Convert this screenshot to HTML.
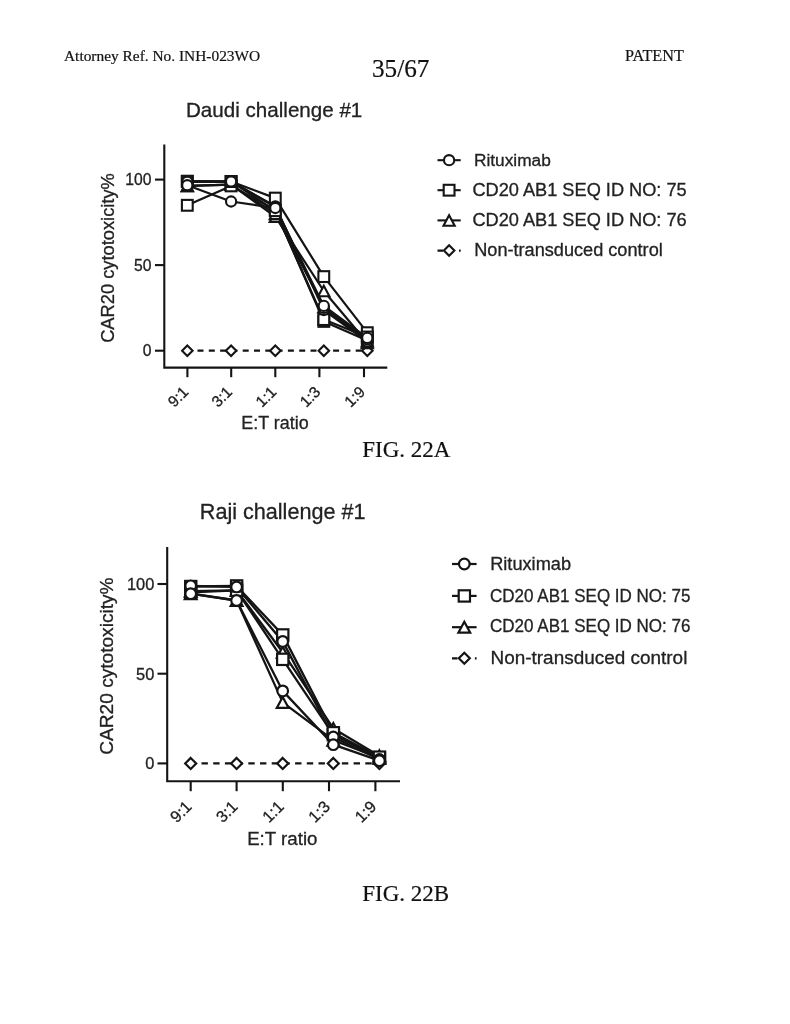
<!DOCTYPE html>
<html lang="en">
<head>
<meta charset="utf-8">
<title>35/67</title>
<style>
html,body{margin:0;padding:0;background:#fff;}
body{width:790px;height:1024px;position:relative;overflow:hidden;font-family:"Liberation Sans",sans-serif;}
svg{position:absolute;left:0;top:0;display:block;filter:blur(0.55px);}
svg text{font-family:"Liberation Sans",sans-serif;}
svg text.serif{font-family:"Liberation Serif",serif;stroke:#111;stroke-width:0.2px;}
svg text.b{stroke:#222;stroke-width:0.3px;}
</style>
</head>
<body>
<svg width="790" height="1024" viewBox="0 0 790 1024">
<rect width="790" height="1024" fill="#fff"/>
<!-- page header -->
<text class="serif" x="64" y="61.4" font-size="15.4" fill="#111">Attorney Ref. No. INH-023WO</text>
<text class="serif" x="625" y="61.3" font-size="16.2" fill="#111">PATENT</text>
<text class="serif" x="372" y="77" font-size="25.2" fill="#111">35/67</text>
<!-- FIG 22A -->
<text class="b" x="186" y="117" font-size="20.6" fill="#222">Daudi challenge #1</text>
<path d="M164.3 144.5 V367.6 H387.3" fill="none" stroke="#141414" stroke-width="2.1" stroke-linejoin="miter"/>
<path d="M155.0 350.7 H164.3" stroke="#141414" stroke-width="2.1"/>
<text class="b" x="151.5" y="356.3" text-anchor="end" font-size="15.70" fill="#222">0</text>
<path d="M155.0 265.1 H164.3" stroke="#141414" stroke-width="2.1"/>
<text class="b" x="151.5" y="270.8" text-anchor="end" font-size="15.70" fill="#222">50</text>
<path d="M155.0 179.6 H164.3" stroke="#141414" stroke-width="2.1"/>
<text class="b" x="151.5" y="185.2" text-anchor="end" font-size="15.70" fill="#222">100</text>
<path d="M187.4 367.6 V377.2" stroke="#141414" stroke-width="2.1"/>
<text class="b" transform="translate(189.4 392.8) rotate(-45)" text-anchor="end" font-size="15.50" fill="#222">9:1</text>
<path d="M231.2 367.6 V377.2" stroke="#141414" stroke-width="2.1"/>
<text class="b" transform="translate(233.2 392.8) rotate(-45)" text-anchor="end" font-size="15.50" fill="#222">3:1</text>
<path d="M275.3 367.6 V377.2" stroke="#141414" stroke-width="2.1"/>
<text class="b" transform="translate(277.3 392.8) rotate(-45)" text-anchor="end" font-size="15.50" fill="#222">1:1</text>
<path d="M319.4 367.6 V377.2" stroke="#141414" stroke-width="2.1"/>
<text class="b" transform="translate(321.4 392.8) rotate(-45)" text-anchor="end" font-size="15.50" fill="#222">1:3</text>
<path d="M364.0 367.6 V377.2" stroke="#141414" stroke-width="2.1"/>
<text class="b" transform="translate(366.0 392.8) rotate(-45)" text-anchor="end" font-size="15.50" fill="#222">1:9</text>
<text class="b" transform="translate(113.5 258) rotate(-90)" text-anchor="middle" font-size="18.30" fill="#222">CAR20 cytotoxicity%</text>
<text class="b" x="275.0" y="428.6" text-anchor="middle" font-size="17.90" fill="#222">E:T ratio</text>
<path d="M187.3 350.7 H367.3" stroke="#141414" stroke-width="2.20" stroke-dasharray="6.0 5.3" stroke-dashoffset="1.1" fill="none"/>
<path d="M187.3 345.4 L192.6 350.7 L187.3 355.9 L182.1 350.7 Z" fill="#fff" stroke="#141414" stroke-width="2.10" stroke-linejoin="miter"/>
<path d="M231.1 345.4 L236.3 350.7 L231.1 355.9 L225.8 350.7 Z" fill="#fff" stroke="#141414" stroke-width="2.10" stroke-linejoin="miter"/>
<path d="M275.3 345.4 L280.6 350.7 L275.3 355.9 L270.1 350.7 Z" fill="#fff" stroke="#141414" stroke-width="2.10" stroke-linejoin="miter"/>
<path d="M323.8 345.4 L329.1 350.7 L323.8 355.9 L318.6 350.7 Z" fill="#fff" stroke="#141414" stroke-width="2.10" stroke-linejoin="miter"/>
<path d="M367.3 345.4 L372.6 350.7 L367.3 355.9 L362.1 350.7 Z" fill="#fff" stroke="#141414" stroke-width="2.10" stroke-linejoin="miter"/>
<polyline points="187.3,185.8 231.1,184.7 275.3,216.6 323.8,291.0 367.3,342.8" fill="none" stroke="#141414" stroke-width="2.20" stroke-linejoin="round"/>
<polyline points="187.3,185.8 231.1,184.7 275.3,213.8 323.8,307.1 367.3,341.1" fill="none" stroke="#141414" stroke-width="2.20" stroke-linejoin="round"/>
<polyline points="187.3,205.3 231.1,185.9 275.3,210.1 323.8,321.4 367.3,340.4" fill="none" stroke="#141414" stroke-width="2.20" stroke-linejoin="round"/>
<polyline points="187.3,181.3 231.1,181.5 275.3,198.1 323.8,276.6 367.3,332.7" fill="none" stroke="#141414" stroke-width="2.20" stroke-linejoin="round"/>
<polyline points="187.3,181.3 231.1,181.5 275.3,210.7 323.8,319.6 367.3,337.0" fill="none" stroke="#141414" stroke-width="2.20" stroke-linejoin="round"/>
<polyline points="187.3,181.7 231.1,181.5 275.3,206.3 323.8,310.0 367.3,341.5" fill="none" stroke="#141414" stroke-width="2.20" stroke-linejoin="round"/>
<polyline points="187.3,181.7 231.1,181.5 275.3,207.0 323.8,307.9 367.3,339.4" fill="none" stroke="#141414" stroke-width="2.20" stroke-linejoin="round"/>
<polyline points="187.3,185.2 231.1,201.5 275.3,208.0 323.8,305.9 367.3,337.9" fill="none" stroke="#141414" stroke-width="2.20" stroke-linejoin="round"/>
<path d="M187.3 180.6 L192.9 191.1 H181.7 Z" fill="#fff" stroke="#141414" stroke-width="2.10" stroke-linejoin="miter"/>
<path d="M231.1 179.5 L236.7 190.0 H225.5 Z" fill="#fff" stroke="#141414" stroke-width="2.10" stroke-linejoin="miter"/>
<path d="M275.3 211.4 L280.9 221.9 H269.7 Z" fill="#fff" stroke="#141414" stroke-width="2.10" stroke-linejoin="miter"/>
<path d="M323.8 285.8 L329.4 296.3 H318.2 Z" fill="#fff" stroke="#141414" stroke-width="2.10" stroke-linejoin="miter"/>
<path d="M367.3 337.6 L372.9 348.1 H361.7 Z" fill="#fff" stroke="#141414" stroke-width="2.10" stroke-linejoin="miter"/>
<path d="M187.3 180.6 L192.9 191.1 H181.7 Z" fill="#fff" stroke="#141414" stroke-width="2.10" stroke-linejoin="miter"/>
<path d="M231.1 179.5 L236.7 190.0 H225.5 Z" fill="#fff" stroke="#141414" stroke-width="2.10" stroke-linejoin="miter"/>
<path d="M275.3 208.6 L280.9 219.1 H269.7 Z" fill="#fff" stroke="#141414" stroke-width="2.10" stroke-linejoin="miter"/>
<path d="M323.8 301.9 L329.4 312.4 H318.2 Z" fill="#fff" stroke="#141414" stroke-width="2.10" stroke-linejoin="miter"/>
<path d="M367.3 335.9 L372.9 346.4 H361.7 Z" fill="#fff" stroke="#141414" stroke-width="2.10" stroke-linejoin="miter"/>
<rect x="181.9" y="199.9" width="10.80" height="10.80" fill="#fff" stroke="#141414" stroke-width="2.10"/>
<rect x="225.7" y="180.5" width="10.80" height="10.80" fill="#fff" stroke="#141414" stroke-width="2.10"/>
<rect x="269.9" y="204.7" width="10.80" height="10.80" fill="#fff" stroke="#141414" stroke-width="2.10"/>
<rect x="318.4" y="316.0" width="10.80" height="10.80" fill="#fff" stroke="#141414" stroke-width="2.10"/>
<rect x="361.9" y="335.0" width="10.80" height="10.80" fill="#fff" stroke="#141414" stroke-width="2.10"/>
<rect x="181.9" y="175.9" width="10.80" height="10.80" fill="#fff" stroke="#141414" stroke-width="2.10"/>
<rect x="225.7" y="176.1" width="10.80" height="10.80" fill="#fff" stroke="#141414" stroke-width="2.10"/>
<rect x="269.9" y="192.7" width="10.80" height="10.80" fill="#fff" stroke="#141414" stroke-width="2.10"/>
<rect x="318.4" y="271.2" width="10.80" height="10.80" fill="#fff" stroke="#141414" stroke-width="2.10"/>
<rect x="361.9" y="327.3" width="10.80" height="10.80" fill="#fff" stroke="#141414" stroke-width="2.10"/>
<rect x="181.9" y="175.9" width="10.80" height="10.80" fill="#fff" stroke="#141414" stroke-width="2.10"/>
<rect x="225.7" y="176.1" width="10.80" height="10.80" fill="#fff" stroke="#141414" stroke-width="2.10"/>
<rect x="269.9" y="205.3" width="10.80" height="10.80" fill="#fff" stroke="#141414" stroke-width="2.10"/>
<rect x="318.4" y="314.2" width="10.80" height="10.80" fill="#fff" stroke="#141414" stroke-width="2.10"/>
<rect x="361.9" y="331.6" width="10.80" height="10.80" fill="#fff" stroke="#141414" stroke-width="2.10"/>
<circle cx="187.3" cy="181.7" r="5.10" fill="#fff" stroke="#141414" stroke-width="2.10"/>
<circle cx="231.1" cy="181.5" r="5.10" fill="#fff" stroke="#141414" stroke-width="2.10"/>
<circle cx="275.3" cy="206.3" r="5.10" fill="#fff" stroke="#141414" stroke-width="2.10"/>
<circle cx="323.8" cy="310.0" r="5.10" fill="#fff" stroke="#141414" stroke-width="2.10"/>
<circle cx="367.3" cy="341.5" r="5.10" fill="#fff" stroke="#141414" stroke-width="2.10"/>
<circle cx="187.3" cy="181.7" r="5.10" fill="#fff" stroke="#141414" stroke-width="2.10"/>
<circle cx="231.1" cy="181.5" r="5.10" fill="#fff" stroke="#141414" stroke-width="2.10"/>
<circle cx="275.3" cy="207.0" r="5.10" fill="#fff" stroke="#141414" stroke-width="2.10"/>
<circle cx="323.8" cy="307.9" r="5.10" fill="#fff" stroke="#141414" stroke-width="2.10"/>
<circle cx="367.3" cy="339.4" r="5.10" fill="#fff" stroke="#141414" stroke-width="2.10"/>
<circle cx="187.3" cy="185.2" r="5.10" fill="#fff" stroke="#141414" stroke-width="2.10"/>
<circle cx="231.1" cy="201.5" r="5.10" fill="#fff" stroke="#141414" stroke-width="2.10"/>
<circle cx="275.3" cy="208.0" r="5.10" fill="#fff" stroke="#141414" stroke-width="2.10"/>
<circle cx="323.8" cy="305.9" r="5.10" fill="#fff" stroke="#141414" stroke-width="2.10"/>
<circle cx="367.3" cy="337.9" r="5.10" fill="#fff" stroke="#141414" stroke-width="2.10"/>
<path d="M437.5 160.2 H460.7" stroke="#141414" stroke-width="2.10" fill="none"/>
<circle cx="449.1" cy="160.2" r="5.10" fill="#fff" stroke="#141414" stroke-width="2.10"/>
<text class="b" x="474" y="165.8" font-size="17.3" fill="#222" >Rituximab</text>
<path d="M437.5 190.2 H460.7" stroke="#141414" stroke-width="2.10" fill="none"/>
<rect x="443.7" y="184.8" width="10.80" height="10.80" fill="#fff" stroke="#141414" stroke-width="2.10"/>
<text class="b" x="472.4" y="196.2" font-size="17.6" fill="#222" textLength="214.3" lengthAdjust="spacingAndGlyphs">CD20 AB1 SEQ ID NO: 75</text>
<path d="M437.5 220.4 H460.7" stroke="#141414" stroke-width="2.10" fill="none"/>
<path d="M449.1 215.2 L454.7 225.7 H443.5 Z" fill="#fff" stroke="#141414" stroke-width="2.10" stroke-linejoin="miter"/>
<text class="b" x="472.4" y="225.6" font-size="17.6" fill="#222" textLength="214.3" lengthAdjust="spacingAndGlyphs">CD20 AB1 SEQ ID NO: 76</text>
<path d="M437.5 250.6 H460.7" stroke="#141414" stroke-width="2.10" stroke-dasharray="5.5 16.0 1.7 20" fill="none"/>
<path d="M449.1 245.3 L454.4 250.6 L449.1 255.8 L443.9 250.6 Z" fill="#fff" stroke="#141414" stroke-width="2.10" stroke-linejoin="miter"/>
<text class="b" x="474.2" y="256.0" font-size="18.15" fill="#222" >Non-transduced control</text>
<text class="serif" x="362.2" y="456.5" font-size="23" fill="#111">FIG. 22A</text>
<!-- FIG 22B -->
<text class="b" x="199.8" y="519.2" font-size="21.6" fill="#222">Raji challenge #1</text>
<path d="M167.2 547.0 V781.2 H400.0" fill="none" stroke="#141414" stroke-width="2.1" stroke-linejoin="miter"/>
<path d="M157.5 763.4 H167.2" stroke="#141414" stroke-width="2.1"/>
<text class="b" x="154.3" y="769.3" text-anchor="end" font-size="16.41" fill="#222">0</text>
<path d="M157.5 673.7 H167.2" stroke="#141414" stroke-width="2.1"/>
<text class="b" x="154.3" y="679.6" text-anchor="end" font-size="16.41" fill="#222">50</text>
<path d="M157.5 584.0 H167.2" stroke="#141414" stroke-width="2.1"/>
<text class="b" x="154.3" y="589.9" text-anchor="end" font-size="16.41" fill="#222">100</text>
<path d="M190.7 781.2 V791.2" stroke="#141414" stroke-width="2.1"/>
<text class="b" transform="translate(192.7 807.7) rotate(-45)" text-anchor="end" font-size="16.20" fill="#222">9:1</text>
<path d="M236.6 781.2 V791.2" stroke="#141414" stroke-width="2.1"/>
<text class="b" transform="translate(238.6 807.7) rotate(-45)" text-anchor="end" font-size="16.20" fill="#222">3:1</text>
<path d="M282.8 781.2 V791.2" stroke="#141414" stroke-width="2.1"/>
<text class="b" transform="translate(284.8 807.7) rotate(-45)" text-anchor="end" font-size="16.20" fill="#222">1:1</text>
<path d="M329.0 781.2 V791.2" stroke="#141414" stroke-width="2.1"/>
<text class="b" transform="translate(331.0 807.7) rotate(-45)" text-anchor="end" font-size="16.20" fill="#222">1:3</text>
<path d="M375.4 781.2 V791.2" stroke="#141414" stroke-width="2.1"/>
<text class="b" transform="translate(377.4 807.7) rotate(-45)" text-anchor="end" font-size="16.20" fill="#222">1:9</text>
<text class="b" transform="translate(113.0 666.1) rotate(-90)" text-anchor="middle" font-size="19.12" fill="#222">CAR20 cytotoxicity%</text>
<text class="b" x="282.3" y="844.5" text-anchor="middle" font-size="18.71" fill="#222">E:T ratio</text>
<path d="M190.7 763.4 H379.4" stroke="#141414" stroke-width="2.30" stroke-dasharray="6.4 5.3" stroke-dashoffset="0.9" fill="none"/>
<path d="M190.7 757.9 L196.2 763.4 L190.7 768.9 L185.2 763.4 Z" fill="#fff" stroke="#141414" stroke-width="2.19" stroke-linejoin="miter"/>
<path d="M236.6 757.9 L242.1 763.4 L236.6 768.9 L231.1 763.4 Z" fill="#fff" stroke="#141414" stroke-width="2.19" stroke-linejoin="miter"/>
<path d="M282.7 757.9 L288.2 763.4 L282.7 768.9 L277.2 763.4 Z" fill="#fff" stroke="#141414" stroke-width="2.19" stroke-linejoin="miter"/>
<path d="M333.3 757.9 L338.8 763.4 L333.3 768.9 L327.8 763.4 Z" fill="#fff" stroke="#141414" stroke-width="2.19" stroke-linejoin="miter"/>
<path d="M379.4 757.9 L384.9 763.4 L379.4 768.9 L373.9 763.4 Z" fill="#fff" stroke="#141414" stroke-width="2.19" stroke-linejoin="miter"/>
<polyline points="190.7,593.7 236.6,600.5 282.7,702.4 333.3,740.1 379.4,758.0" fill="none" stroke="#141414" stroke-width="2.30" stroke-linejoin="round"/>
<polyline points="190.7,591.2 236.6,590.3 282.7,652.2 333.3,728.4 379.4,755.9" fill="none" stroke="#141414" stroke-width="2.30" stroke-linejoin="round"/>
<polyline points="190.7,592.3 236.6,590.3 282.7,659.3 333.3,734.7 379.4,758.0" fill="none" stroke="#141414" stroke-width="2.30" stroke-linejoin="round"/>
<polyline points="190.7,586.5 236.6,586.0 282.7,634.9 333.3,732.7 379.4,757.1" fill="none" stroke="#141414" stroke-width="2.30" stroke-linejoin="round"/>
<polyline points="190.7,585.8 236.6,586.9 282.7,641.4 333.3,737.0 379.4,759.5" fill="none" stroke="#141414" stroke-width="2.30" stroke-linejoin="round"/>
<polyline points="190.7,593.7 236.6,600.5 282.7,690.9 333.3,744.7 379.4,760.7" fill="none" stroke="#141414" stroke-width="2.30" stroke-linejoin="round"/>
<path d="M190.7 588.3 L196.6 599.2 H184.8 Z" fill="#fff" stroke="#141414" stroke-width="2.19" stroke-linejoin="miter"/>
<path d="M236.6 595.1 L242.5 606.0 H230.7 Z" fill="#fff" stroke="#141414" stroke-width="2.19" stroke-linejoin="miter"/>
<path d="M282.7 697.0 L288.6 707.9 H276.8 Z" fill="#fff" stroke="#141414" stroke-width="2.19" stroke-linejoin="miter"/>
<path d="M333.3 734.6 L339.2 745.6 H327.4 Z" fill="#fff" stroke="#141414" stroke-width="2.19" stroke-linejoin="miter"/>
<path d="M379.4 752.6 L385.3 763.6 H373.5 Z" fill="#fff" stroke="#141414" stroke-width="2.19" stroke-linejoin="miter"/>
<path d="M190.7 585.7 L196.6 596.7 H184.8 Z" fill="#fff" stroke="#141414" stroke-width="2.19" stroke-linejoin="miter"/>
<path d="M236.6 584.8 L242.5 595.8 H230.7 Z" fill="#fff" stroke="#141414" stroke-width="2.19" stroke-linejoin="miter"/>
<path d="M282.7 646.7 L288.6 657.7 H276.8 Z" fill="#fff" stroke="#141414" stroke-width="2.19" stroke-linejoin="miter"/>
<path d="M333.3 723.0 L339.2 734.0 H327.4 Z" fill="#fff" stroke="#141414" stroke-width="2.19" stroke-linejoin="miter"/>
<path d="M379.4 750.4 L385.3 761.4 H373.5 Z" fill="#fff" stroke="#141414" stroke-width="2.19" stroke-linejoin="miter"/>
<rect x="185.1" y="586.6" width="11.29" height="11.29" fill="#fff" stroke="#141414" stroke-width="2.19"/>
<rect x="231.0" y="584.6" width="11.29" height="11.29" fill="#fff" stroke="#141414" stroke-width="2.19"/>
<rect x="277.1" y="653.7" width="11.29" height="11.29" fill="#fff" stroke="#141414" stroke-width="2.19"/>
<rect x="327.7" y="729.1" width="11.29" height="11.29" fill="#fff" stroke="#141414" stroke-width="2.19"/>
<rect x="373.8" y="752.4" width="11.29" height="11.29" fill="#fff" stroke="#141414" stroke-width="2.19"/>
<rect x="185.1" y="580.9" width="11.29" height="11.29" fill="#fff" stroke="#141414" stroke-width="2.19"/>
<rect x="231.0" y="580.3" width="11.29" height="11.29" fill="#fff" stroke="#141414" stroke-width="2.19"/>
<rect x="277.1" y="629.3" width="11.29" height="11.29" fill="#fff" stroke="#141414" stroke-width="2.19"/>
<rect x="327.7" y="727.1" width="11.29" height="11.29" fill="#fff" stroke="#141414" stroke-width="2.19"/>
<rect x="373.8" y="751.5" width="11.29" height="11.29" fill="#fff" stroke="#141414" stroke-width="2.19"/>
<circle cx="190.7" cy="585.8" r="5.33" fill="#fff" stroke="#141414" stroke-width="2.19"/>
<circle cx="236.6" cy="586.9" r="5.33" fill="#fff" stroke="#141414" stroke-width="2.19"/>
<circle cx="282.7" cy="641.4" r="5.33" fill="#fff" stroke="#141414" stroke-width="2.19"/>
<circle cx="333.3" cy="737.0" r="5.33" fill="#fff" stroke="#141414" stroke-width="2.19"/>
<circle cx="379.4" cy="759.5" r="5.33" fill="#fff" stroke="#141414" stroke-width="2.19"/>
<circle cx="190.7" cy="593.7" r="5.33" fill="#fff" stroke="#141414" stroke-width="2.19"/>
<circle cx="236.6" cy="600.5" r="5.33" fill="#fff" stroke="#141414" stroke-width="2.19"/>
<circle cx="282.7" cy="690.9" r="5.33" fill="#fff" stroke="#141414" stroke-width="2.19"/>
<circle cx="333.3" cy="744.7" r="5.33" fill="#fff" stroke="#141414" stroke-width="2.19"/>
<circle cx="379.4" cy="760.7" r="5.33" fill="#fff" stroke="#141414" stroke-width="2.19"/>
<path d="M452.0 564.0 H476.6" stroke="#141414" stroke-width="2.19" fill="none"/>
<circle cx="464.3" cy="564.0" r="5.33" fill="#fff" stroke="#141414" stroke-width="2.19"/>
<text class="b" x="490.2" y="569.6" font-size="18.2" fill="#222" >Rituximab</text>
<path d="M452.0 595.9 H476.6" stroke="#141414" stroke-width="2.19" fill="none"/>
<rect x="458.7" y="590.3" width="11.29" height="11.29" fill="#fff" stroke="#141414" stroke-width="2.19"/>
<text class="b" x="490.0" y="601.6" font-size="18.2" fill="#222" textLength="200.5" lengthAdjust="spacingAndGlyphs">CD20 AB1 SEQ ID NO: 75</text>
<path d="M452.0 627.2 H476.6" stroke="#141414" stroke-width="2.19" fill="none"/>
<path d="M464.3 621.8 L470.2 632.7 H458.4 Z" fill="#fff" stroke="#141414" stroke-width="2.19" stroke-linejoin="miter"/>
<text class="b" x="490.0" y="631.9" font-size="18.2" fill="#222" textLength="200.5" lengthAdjust="spacingAndGlyphs">CD20 AB1 SEQ ID NO: 76</text>
<path d="M452.0 658.3 H476.6" stroke="#141414" stroke-width="2.19" stroke-dasharray="5.5 17.4 1.7 20" fill="none"/>
<path d="M464.3 652.8 L469.8 658.3 L464.3 663.8 L458.8 658.3 Z" fill="#fff" stroke="#141414" stroke-width="2.19" stroke-linejoin="miter"/>
<text class="b" x="490.5" y="664.1" font-size="18.95" fill="#222" >Non-transduced control</text>
<text class="serif" x="362.2" y="900.5" font-size="23" fill="#111">FIG. 22B</text>
</svg>
</body>
</html>
